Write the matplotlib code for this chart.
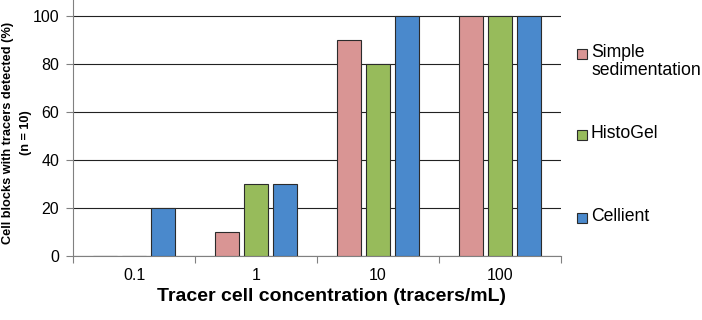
import matplotlib
matplotlib.use("Agg")
import matplotlib.pyplot as plt
from matplotlib.patches import Rectangle
import numpy as np

plt.rcParams['font.family'] = ['Liberation Sans', 'DejaVu Sans']

categories = ['0.1', '1', '10', '100']
series_names = ['Simple\nsedimentation', 'HistoGel', 'Cellient']
simple_sed = [0, 10, 90, 100]
histogel = [0, 30, 80, 100]
cellient = [20, 30, 100, 100]
colors = ['#D99594', '#97BB5B', '#4A89CC']

fig = plt.figure(figsize=(7.02, 3.2), dpi=100)
ax = fig.add_axes([73 / 702, 64 / 320, 488 / 702, 256 / 320])

x = np.arange(len(categories))
width = 0.2
step = 0.24
for i, (vals, c) in enumerate(zip([simple_sed, histogel, cellient], colors)):
    ax.bar(x + (i - 1) * step, vals, width, color=c, edgecolor='#2b2b2b',
           linewidth=0.8, zorder=3)

ax.set_xlim(-0.5, 3.5)
ax.set_ylim(0, 106.7)
ax.set_yticks([0, 20, 40, 60, 80, 100])
ax.yaxis.grid(True, color='#222222', linewidth=0.8, zorder=0)
ax.set_axisbelow(True)

ax.set_xticks(np.arange(-0.5, 4, 1))
ax.set_xticklabels([])
ax.set_xticks(x, minor=True)
ax.set_xticklabels(categories, minor=True, fontsize=11.5)
ax.tick_params(axis='x', which='minor', length=0, pad=9)
ax.tick_params(axis='x', which='major', length=5, color='#808080')
ax.tick_params(axis='y', length=5, color='#808080', labelsize=11.5, pad=5)

for s in ['top', 'right']:
    ax.spines[s].set_visible(False)
for s in ['left', 'bottom']:
    ax.spines[s].set_color('#808080')

ax.set_xlabel('Tracer cell concentration (tracers/mL)', fontsize=14,
              fontweight='bold')
ax.xaxis.set_label_coords(0.53, -0.125)
ax.set_ylabel('Cell blocks with tracers detected (%)\n(n = 10)', fontsize=9.2,
              fontweight='bold', linespacing=1.6)
ax.yaxis.set_label_coords(-0.085, 0.48)

# legend, drawn by hand so the square sits on the first text line
leg_y = [54, 135, 218]
for name, c, yy in zip(series_names, colors, leg_y):
    fig.patches.append(Rectangle((577 / 702, (320 - yy - 5) / 320), 10 / 702, 10 / 320,
                                 transform=fig.transFigure, facecolor=c,
                                 edgecolor='#2b2b2b', linewidth=0.8))
    fig.text(591 / 702, (320 - yy + 10) / 320, name, fontsize=12.7, va='top',
             ha='left', linespacing=1.1, transform=fig.transFigure)

fig.savefig('out.png', dpi=100)
